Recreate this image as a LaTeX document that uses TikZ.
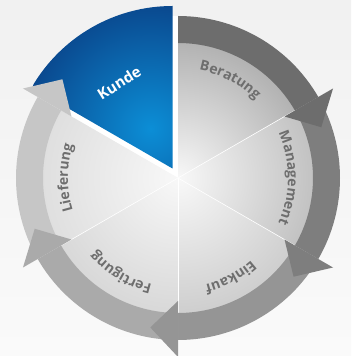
\documentclass[tikz,border=0pt]{standalone}
\usepackage{fontspec}
\setmainfont{Open Sans}
\usetikzlibrary{decorations.text}
\definecolor{bgtop}{HTML}{F1F1F1}
\definecolor{bgbot}{HTML}{FAFAFA}
\definecolor{kbl}{RGB}{12,142,214}
\definecolor{kbd}{RGB}{10,72,142}
\definecolor{lab}{HTML}{6E6E6E}
\definecolor{berR}{HTML}{6D6D6D}
\definecolor{manR}{HTML}{7E7E7E}
\definecolor{einR}{HTML}{959595}
\definecolor{ferR}{HTML}{AAAAAA}
\definecolor{lieR}{HTML}{C6C6C6}
\definecolor{berI}{HTML}{B2B2B2}
\definecolor{manI}{HTML}{C2C2C2}
\definecolor{einI}{HTML}{CECECE}
\definecolor{ferI}{HTML}{D8D8D8}
\definecolor{lieI}{HTML}{DFDFDF}
\definecolor{cen}{HTML}{F8F8F8}
\tikzset{
  labeltext/.style={decorate, decoration={text along path, text align=center,
      text={|\fontsize{14}{14}\selectfont\bfseries\color{lab}|#1}}},
}
\begin{document}
\begin{tikzpicture}[x=1pt,y=1pt]
\useasboundingbox (0,0) rectangle (351,356);
\shade[top color=bgtop, bottom color=bgbot] (0,0) rectangle (351,356);
\begin{scope}[shift={(178,178)}]
  % white area under Kunde
  \fill[white] (0,0) -- (90:162) arc[start angle=90,end angle=150,radius=162] -- cycle;
  % inner sectors
  \foreach \a/\b/\col in {30/90/berI, -30/30/manI, -90/-30/einI, -150/-90/ferI, 150/210/lieI}{
    \begin{scope}
      \clip (0,0) -- (\a:136) arc[start angle=\a,end angle=\b,radius=136] -- cycle;
      \shade[inner color=cen, outer color=\col] (0,0) circle[radius=136];
    \end{scope}
  }
  \foreach \a in {-150,-90,-30,30}{
    \draw[white, line width=0.6pt] (0,0) -- (\a:136);
  }
  % ring segments
  \foreach \a/\b/\col in {90/30/berR, 30/-30/manR, -30/-90/einR, -90/-150/ferR, -150/-210/lieR}{
    \fill[\col] (\a:162) arc[start angle=\a,end angle=\b,radius=162] -- (\b:135)
      arc[start angle=\b,end angle=\a,radius=135] -- cycle;
  }
\end{scope}
% Kunde wedge
\begin{scope}[shift={(172.5,187.5)}]
  \begin{scope}
    \clip (0,0) -- (90:162.5) arc[start angle=90,end angle=150,radius=162.5] -- cycle;
    \shade[inner color=kbl, outer color=kbd] (-22,40) circle[radius=125];
  \end{scope}
\end{scope}
\begin{scope}[shift={(178,178)}]
  % arrowheads
  \foreach \a/\col in {30/berR, -30/manR, -90/einR, -150/ferR, 150/lieR}{
    \fill[\col] (\a:123) -- (\a:179) -- ({\a-10.5}:152) -- cycle;
  }
  % labels
  \path[labeltext=Beratung] (92:110) arc[start angle=92,end angle=32,radius=110];
  \path[labeltext=Management] (30:110) arc[start angle=30,end angle=-30,radius=110];
  \path[labeltext=Einkauf] (-32:110) arc[start angle=-32,end angle=-92,radius=110];
  \path[labeltext=Fertigung] (-91:110) arc[start angle=-91,end angle=-151,radius=110];
  \path[labeltext=Lieferung] (210:110) arc[start angle=210,end angle=150,radius=110];
\end{scope}
\node[rotate=32, text=white, font=\fontsize{15}{15}\selectfont\bfseries] (kunde) at (119,273) {Kunde};
\end{tikzpicture}
\end{document}
